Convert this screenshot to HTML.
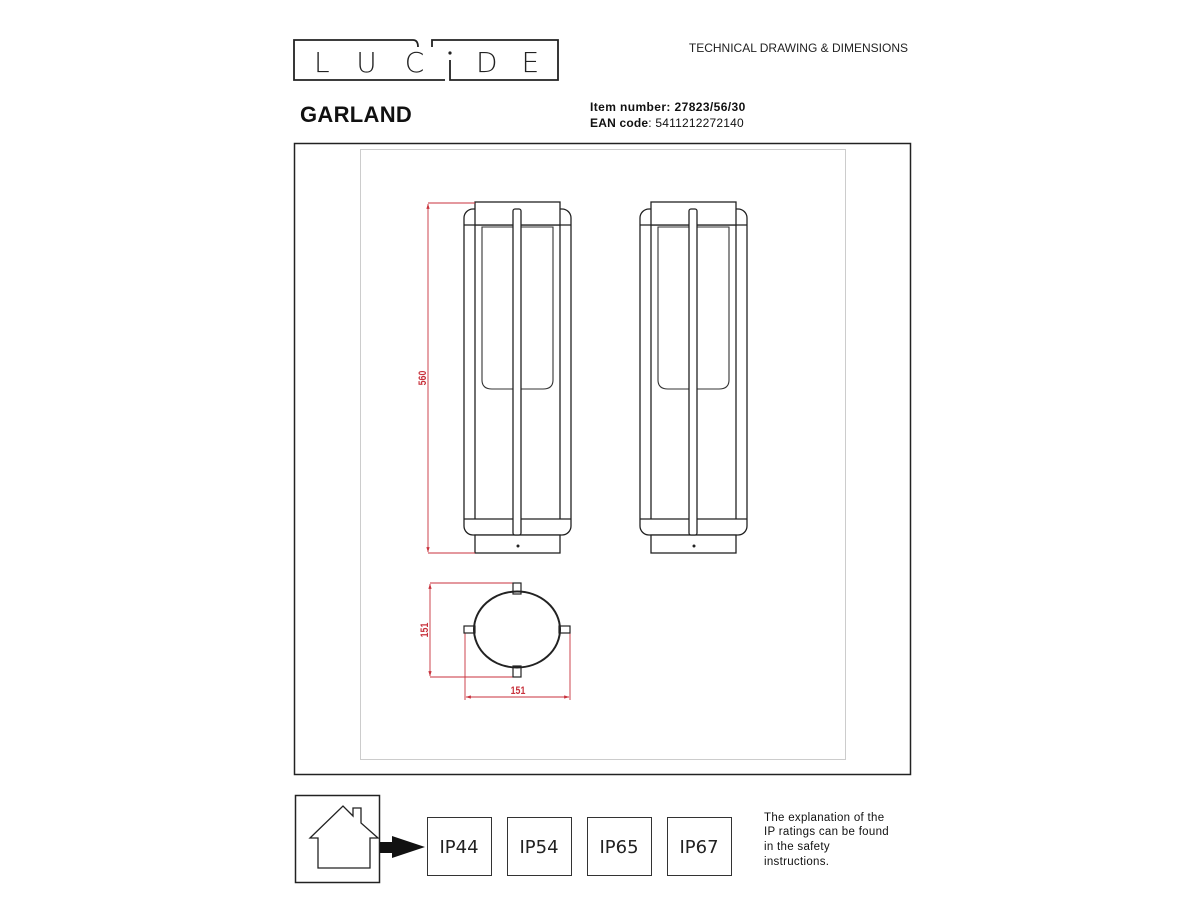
<!DOCTYPE html>
<html><head><meta charset="utf-8"><style>
html,body{margin:0;padding:0;background:#fff;}
body{width:1200px;height:900px;position:relative;overflow:hidden;font-family:"Liberation Sans",Arial,sans-serif;}
</style></head><body>
<svg width="1200" height="900" viewBox="0 0 1200 900" xmlns="http://www.w3.org/2000/svg" style="position:absolute;left:0;top:0">
<defs>
<marker id="ar" viewBox="0 0 10 10" refX="9" refY="5" markerWidth="6" markerHeight="6" orient="auto-start-reverse"><path d="M0,2 L10,5 L0,8 z" fill="#c8323c"/></marker>
<g id="lamp" fill="none" stroke="#222" stroke-width="1.3">
<rect x="464" y="209" width="107" height="326" rx="9" fill="#fff"/>
<line x1="464" y1="225" x2="571" y2="225"/>
<line x1="464" y1="519" x2="571" y2="519"/>
<line x1="475" y1="225" x2="475" y2="519"/>
<line x1="560" y1="225" x2="560" y2="519"/>
<path d="M482,227 V380 Q482,389 492,389 H543 Q553,389 553,380 V227 Z" stroke="#333" stroke-width="1.1"/>
<rect x="475" y="202" width="85" height="23" fill="#fff"/>
<rect x="475" y="535" width="85" height="18" fill="#fff"/>
<circle cx="518" cy="546" r="1.5" fill="#222" stroke="none"/>
<rect x="513" y="209" width="8" height="326" rx="2" fill="#fff"/>
</g>
</defs>

<!-- Header logo -->
<path d="M413,40 H294 V80 H445" fill="none" stroke="#222" stroke-width="1.8"/>
<path d="M413,40 Q418,40 418,47" fill="none" stroke="#222" stroke-width="1.8"/>
<path d="M432,47 V40 H558 V80 H450 V60" fill="none" stroke="#222" stroke-width="1.8"/>
<text x="314" y="72" font-size="28" letter-spacing="28" fill="#222" font-family="'DejaVu Sans',sans-serif" font-weight="200">LUC</text>
<text x="476" y="72" font-size="28" letter-spacing="24" fill="#222" font-family="'DejaVu Sans',sans-serif" font-weight="200">DE</text>
<circle cx="450" cy="53" r="1.6" fill="#222"/>
<text x="908" y="52" font-size="12" fill="#222" text-anchor="end">TECHNICAL DRAWING &amp; DIMENSIONS</text>
<text x="300" y="122" font-size="22" font-weight="bold" fill="#111" letter-spacing="0.3">GARLAND</text>
<text x="590" y="111" font-size="12" font-weight="bold" fill="#111" letter-spacing="0.4">Item number: 27823/56/30</text>
<text x="590" y="127" font-size="12" fill="#111" letter-spacing="0.2"><tspan font-weight="bold">EAN code</tspan>: 5411212272140</text>

<!-- Frame -->
<rect x="294.5" y="143.5" width="616" height="631" fill="none" stroke="#222" stroke-width="1.5"/>
<rect x="360.5" y="149.5" width="485" height="610" fill="none" stroke="#ccc" stroke-width="1"/>

<use href="#lamp"/>
<use href="#lamp" transform="translate(176,0)"/>

<!-- dims -->
<g stroke="#c8323c" stroke-width="0.9" fill="none">
<line x1="428" y1="203" x2="475" y2="203"/>
<line x1="428" y1="553" x2="475" y2="553"/>
<line x1="428" y1="204" x2="428" y2="552" marker-start="url(#ar)" marker-end="url(#ar)"/>
<line x1="430" y1="583" x2="513" y2="583"/>
<line x1="430" y1="677" x2="513" y2="677"/>
<line x1="430" y1="584" x2="430" y2="676" marker-start="url(#ar)" marker-end="url(#ar)"/>
<line x1="465" y1="633" x2="465" y2="700"/>
<line x1="570" y1="633" x2="570" y2="700"/>
<line x1="466" y1="697" x2="569" y2="697" marker-start="url(#ar)" marker-end="url(#ar)"/>
</g>
<g font-size="11" fill="#c8323c" text-anchor="middle" font-family="'Liberation Sans Narrow','Liberation Sans',sans-serif" font-weight="bold">
<text transform="translate(426,378) rotate(-90) scale(0.8,1)">560</text>
<text transform="translate(428,630) rotate(-90) scale(0.8,1)">151</text>
<text transform="translate(518,694) scale(0.8,1)">151</text>
</g>

<!-- top view -->
<g fill="#fff" stroke="#222" stroke-width="1.2">
<rect x="513" y="583" width="8" height="11"/>
<rect x="513" y="666" width="8" height="11"/>
<rect x="464" y="626" width="11" height="7"/>
<rect x="559" y="626" width="11" height="7"/>
<ellipse cx="517" cy="629.5" rx="43" ry="38" fill="none" stroke-width="2"/>
</g>

<!-- bottom IP -->
<rect x="295.5" y="795.5" width="84" height="87" fill="none" stroke="#222" stroke-width="1.5"/>
<path d="M310,838 L343,806 L353,816 V808 H361 V823 L378,838 H370 V868 H318 V838 Z" fill="none" stroke="#222" stroke-width="1.3"/>
<rect x="380" y="842" width="13" height="11" fill="#111"/>
<path d="M392,836 L425,847 L392,858 Z" fill="#111"/>
<g fill="none" stroke="#333" stroke-width="1">
<rect x="427.5" y="817.5" width="64" height="58"/>
<rect x="507.5" y="817.5" width="64" height="58"/>
<rect x="587.5" y="817.5" width="64" height="58"/>
<rect x="667.5" y="817.5" width="64" height="58"/>
</g>
<g font-size="18" fill="#222" text-anchor="middle" font-family="'DejaVu Sans',sans-serif">
<text x="459" y="853">IP44</text>
<text x="539" y="853">IP54</text>
<text x="619" y="853">IP65</text>
<text x="699" y="853">IP67</text>
</g>
<g font-size="11.5" fill="#111" letter-spacing="0.3">
<text x="764" y="821">The explanation of the</text>
<text x="764" y="835">IP ratings can be found</text>
<text x="764" y="850">in the safety</text>
<text x="764" y="865">instructions.</text>
</g>
</svg>
</body></html>
